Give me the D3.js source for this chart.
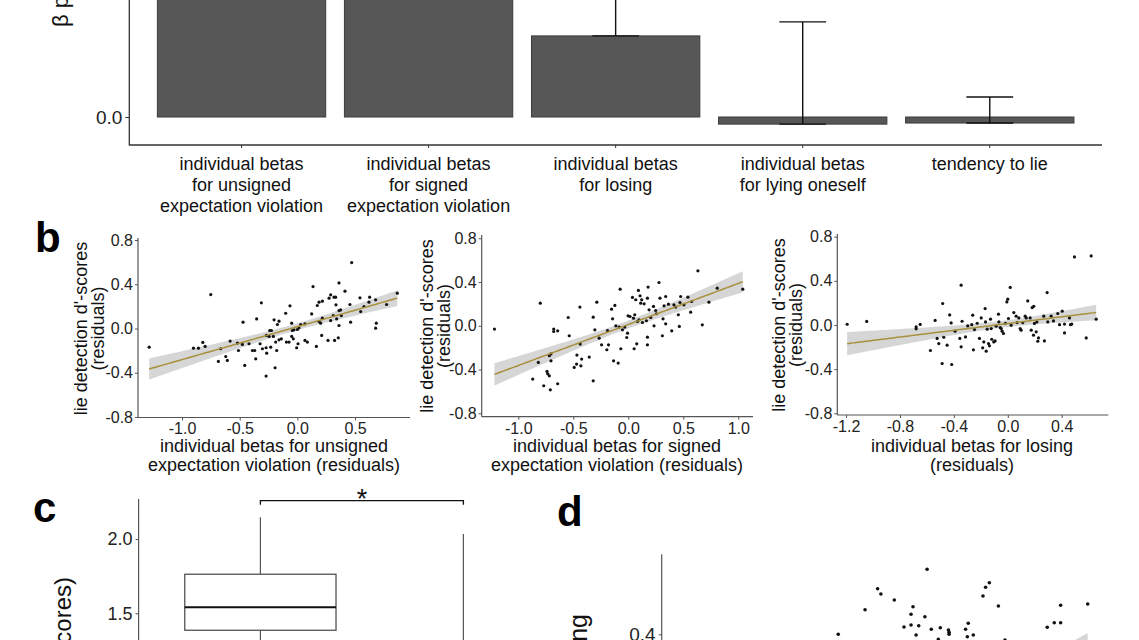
<!DOCTYPE html>
<html><head><meta charset="utf-8">
<script src="https://cdn.jsdelivr.net/npm/d3@7"></script>
<style>body{margin:0;background:#fff}svg{display:block}text{font-family:"Liberation Sans",Arial,sans-serif}</style>
</head><body><svg id="fig" width="1139" height="640"></svg>
<script>
// ---------- Panel a ----------
const aCategories = ["individual betas|for unsigned|expectation violation","individual betas|for signed|expectation violation","individual betas|for losing","individual betas|for lying oneself","tendency to lie"];
const aMeans   = [0.90, 0.86, 0.296, -0.026, -0.022];
const aErrHigh = [1.00, 0.95, 0.55, 0.347, 0.073];
const aYTicks  = [0.0, 0.5, 1.0];

// ---------- Panel b ----------
const b1X = [-1.285,-0.751,-0.901,-0.858,-0.820,-0.800,-0.685,-0.665,-0.621,-0.607,-0.583,-0.511,-0.520,-0.471,-0.456,-0.477,-0.419,-0.390,-0.370,-0.361,-0.353,-0.312,-0.323,-0.303,-0.271,-0.266,-0.269,-0.271,-0.240,-0.225,-0.245,-0.231,-0.202,-0.208,-0.193,-0.188,-0.173,-0.159,-0.179,-0.159,-0.139,-0.101,-0.095,-0.072,-0.064,-0.049,-0.043,-0.029,-0.049,-0.035,-0.006,0.006,0.000,0.014,0.029,0.066,0.066,0.087,0.124,0.136,0.165,0.173,0.188,0.188,0.202,0.217,0.217,0.211,0.266,0.275,0.289,0.318,0.332,0.289,0.312,0.335,0.341,0.361,0.375,0.361,0.361,0.355,0.323,0.381,0.413,0.456,0.462,0.471,0.543,0.549,0.578,0.621,0.627,0.679,0.685,0.679,0.774,0.867];
const b1Y = [-0.169,0.307,-0.178,-0.178,-0.126,-0.162,-0.298,-0.183,-0.253,-0.289,-0.114,-0.199,-0.132,0.057,-0.334,-0.144,-0.138,-0.199,-0.199,-0.274,0.087,0.232,-0.138,-0.183,-0.174,-0.223,-0.063,-0.430,-0.018,-0.018,-0.072,-0.169,0.078,-0.072,-0.355,-0.123,0.036,0.066,-0.199,-0.102,-0.093,0.138,-0.123,-0.123,0.205,0.048,-0.018,-0.012,-0.072,-0.093,-0.174,-0.138,-0.009,0.006,0.036,0.042,-0.108,-0.123,0.132,0.379,-0.162,0.208,0.063,0.238,0.048,0.247,0.093,-0.063,-0.108,0.274,0.304,0.283,0.283,0.072,0.117,0.214,0.087,0.162,0.168,0.412,0.027,-0.084,-0.108,0.117,0.337,0.217,0.057,0.596,0.277,0.153,0.199,0.238,0.283,0.259,0.048,0.003,0.217,0.319];
const b2X = [-1.217,-0.800,-0.869,-0.818,-0.769,-0.739,-0.733,-0.718,-0.709,-0.718,-0.703,-0.703,-0.678,-0.678,-0.642,-0.642,-0.546,-0.537,-0.492,-0.470,-0.467,-0.440,-0.437,-0.431,-0.424,-0.355,-0.319,-0.319,-0.304,-0.286,-0.265,-0.243,-0.195,-0.189,-0.180,-0.152,-0.143,-0.134,-0.122,-0.113,-0.092,-0.083,-0.074,-0.068,-0.053,-0.032,-0.014,-0.007,-0.002,0.016,0.038,0.047,0.053,0.059,0.068,0.077,0.083,0.092,0.098,0.107,0.113,0.122,0.129,0.144,0.165,0.174,0.174,0.174,0.180,0.189,0.204,0.229,0.234,0.249,0.255,0.279,0.288,0.310,0.316,0.325,0.340,0.340,0.365,0.395,0.415,0.431,0.455,0.464,0.470,0.476,0.506,0.542,0.567,0.576,0.633,0.673,0.733,0.809,1.041];
const b2Y = [-0.030,0.207,-0.487,-0.335,-0.548,-0.417,-0.439,-0.457,-0.585,-0.274,-0.256,-0.320,-0.030,-0.052,-0.046,-0.530,0.076,-0.091,-0.381,-0.350,-0.268,0.171,-0.167,-0.366,-0.304,-0.286,0.079,-0.503,-0.037,0.216,-0.113,-0.174,-0.219,-0.043,-0.174,0.152,0.064,-0.320,0.186,0.000,-0.341,-0.012,0.335,-0.210,-0.037,-0.012,-0.107,-0.067,0.091,0.085,0.259,0.070,-0.210,0.101,0.238,-0.165,0.040,0.323,0.055,0.274,0.207,0.238,0.030,0.201,0.046,0.253,-0.104,-0.174,0.354,0.146,0.076,0.177,0.000,0.140,0.110,0.396,0.253,-0.091,0.064,0.183,0.268,0.018,0.198,-0.046,0.192,0.171,0.101,-0.006,0.213,0.268,0.192,0.262,0.125,0.222,0.503,0.009,0.216,0.344,0.335];
const b3X = [-1.192,-1.047,-0.680,-0.680,-0.650,-0.574,-0.539,-0.524,-0.512,-0.483,-0.487,-0.475,-0.450,-0.431,-0.420,-0.416,-0.391,-0.356,-0.346,-0.346,-0.339,-0.314,-0.297,-0.267,-0.260,-0.255,-0.247,-0.227,-0.210,-0.197,-0.186,-0.178,-0.168,-0.165,-0.160,-0.153,-0.143,-0.136,-0.128,-0.123,-0.119,-0.104,-0.094,-0.086,-0.069,-0.066,-0.056,-0.049,-0.042,-0.032,-0.017,-0.007,0.000,0.005,0.018,0.025,0.045,0.062,0.069,0.082,0.092,0.099,0.111,0.129,0.137,0.148,0.166,0.174,0.181,0.193,0.191,0.198,0.211,0.216,0.223,0.228,0.272,0.267,0.292,0.297,0.322,0.339,0.371,0.384,0.404,0.421,0.421,0.458,0.465,0.475,0.495,0.582,0.619,0.656];
const b3Y = [0.007,0.032,-0.017,-0.035,0.005,-0.231,0.041,-0.122,-0.168,0.195,-0.349,-0.111,-0.183,0.091,0.019,-0.358,-0.056,-0.122,0.361,-0.198,0.034,-0.108,-0.008,0.003,0.089,-0.225,-0.041,0.016,-0.122,0.064,-0.207,-0.153,0.149,0.028,-0.237,-0.038,-0.168,-0.189,0.053,-0.032,-0.129,-0.153,-0.144,-0.011,0.098,0.028,-0.023,-0.032,-0.056,-0.077,0.016,0.209,0.234,0.059,0.340,-0.002,0.113,0.080,0.022,0.064,-0.032,-0.047,0.022,0.080,0.064,0.218,0.064,-0.047,0.158,0.170,-0.092,0.014,-0.062,0.028,-0.147,-0.117,-0.144,0.080,0.294,0.028,0.080,0.037,0.104,0.003,0.125,0.008,-0.072,0.064,0.003,0.008,0.617,-0.117,0.626,0.053];
const bYTicks = [-0.8,-0.4,0.0,0.4,0.8];
const b1XTicks = [-1.0,-0.5,0.0,0.5];
const b2XTicks = [-1.0,-0.5,0.0,0.5,1.0];
const b3XTicks = [-1.2,-0.8,-0.4,0.0,0.4];

// ---------- Panel c ----------
const cGroups = ["group 1","group 2"];
const cQ1 = [1.386, 0.85];
const cMedian = [1.541, 1.05];
const cQ3 = [1.763, 1.25];
const cWhiskLow = [1.00, 0.40];
const cWhiskHigh = [2.146, 2.034];
const cYTicks = [1.0, 1.5, 2.0];
const cSigLevel = [2.258, 2.231];

// ---------- Panel d ----------
const dX = [-0.199,-0.077,-0.020,-0.005,0.056,0.100,0.132,0.132,0.141,0.155,0.167,0.195,0.205,0.224,0.256,0.265,0.302,0.305,0.305,0.380,0.392,0.388,0.415,0.459,0.471,0.488,0.529,0.559,0.751,0.783,0.812,0.812,0.935];
const dY = [0.400,0.498,0.582,0.561,0.537,0.429,0.437,0.480,0.510,0.397,0.434,0.470,0.660,0.420,0.380,0.426,0.417,0.408,0.400,0.420,0.444,0.390,0.397,0.553,0.588,0.606,0.513,0.377,0.428,0.446,0.446,0.516,0.521];
const dYTicks = [0.0, 0.4];
const dBandX = [0.60, 0.935];
const dBandLo = [0.00, 0.05];
const dBandHi = [0.244, 0.405];

const FONT = '"Liberation Sans",Arial,sans-serif';
const svg = d3.select("#fig");
svg.append("rect").attr("width",1139).attr("height",640).attr("fill","#fff");
const fmt = d => d.toFixed(1);

// ===== Panel a =====
(function(){
  const g = svg.append("g");
  const x = d3.scalePoint().domain(d3.range(aCategories.length)).range([129.3,1102]).padding(0.6);
  const y = d3.scaleLinear().domain([0,0.5]).range([117,-20]);
  const step = x.step(), bw = step*0.9, cw = step*0.25;
  g.selectAll("rect.bar").data(aMeans).join("rect").attr("class","bar")
    .attr("x",(d,i)=>x(i)-bw/2).attr("y",d=>y(Math.max(d,0)))
    .attr("width",bw).attr("height",d=>Math.abs(y(d)-y(0)))
    .attr("fill","#575757").attr("stroke","#3c3c3c").attr("stroke-width",1);
  const eb = g.selectAll("g.err").data(aMeans).join("g").attr("class","err")
    .attr("stroke","#111").attr("stroke-width",1.4);
  eb.append("line").attr("x1",(d,i)=>x(i)).attr("x2",(d,i)=>x(i)).attr("y1",d=>y(d)).attr("y2",(d,i)=>y(aErrHigh[i]));
  eb.append("line").attr("x1",(d,i)=>x(i)-cw/2).attr("x2",(d,i)=>x(i)+cw/2).attr("y1",d=>y(d)).attr("y2",d=>y(d));
  eb.append("line").attr("x1",(d,i)=>x(i)-cw/2).attr("x2",(d,i)=>x(i)+cw/2).attr("y1",(d,i)=>y(aErrHigh[i])).attr("y2",(d,i)=>y(aErrHigh[i]));
  const ya = g.append("g").attr("transform","translate(129.3,0)")
    .call(d3.axisLeft(y).tickValues(aYTicks).tickSize(4).tickPadding(3).tickFormat(fmt));
  ya.select(".domain").remove();
  ya.selectAll("line").attr("stroke","#333");
  ya.selectAll("text").attr("font-size",19).attr("font-family",FONT).attr("fill","#222");
  g.append("line").attr("x1",129.3).attr("x2",129.3).attr("y1",-5).attr("y2",145.5).attr("stroke","#333").attr("stroke-width",1.3);
  g.append("line").attr("x1",129.3).attr("x2",1102).attr("y1",145).attr("y2",145).attr("stroke","#333").attr("stroke-width",1.3);
  g.selectAll("line.xt").data(aCategories).join("line").attr("class","xt")
    .attr("x1",(d,i)=>x(i)).attr("x2",(d,i)=>x(i)).attr("y1",145).attr("y2",148).attr("stroke","#333");
  const lab = g.selectAll("text.cat").data(aCategories).join("text").attr("class","cat")
    .attr("text-anchor","middle").attr("font-size",18).attr("fill","#111");
  lab.each(function(d,i){
    d.split("|").forEach((s,k)=>{
      d3.select(this).append("tspan").attr("x",x(i)).attr("y",170+k*21).text(s);
    });
  });
  g.append("text").attr("transform","translate(68,27) rotate(-90)")
    .attr("font-size",22).attr("fill","#111").attr("text-anchor","start").text("β parameter estimates");
})();

// ===== Panel b =====
function ols(X,Y){
  const n=X.length, mx=d3.mean(X), my=d3.mean(Y);
  let sxx=0,sxy=0; for(let i=0;i<n;i++){sxx+=(X[i]-mx)**2; sxy+=(X[i]-mx)*(Y[i]-my);}
  const b=sxy/sxx, a=my-b*mx;
  let sse=0; for(let i=0;i<n;i++){sse+=(Y[i]-a-b*X[i])**2;}
  const s=Math.sqrt(sse/(n-2)), t=1.985;
  return {a,b,band:x0=>t*s*Math.sqrt(1/n+(x0-mx)**2/sxx)};
}
function scatter(c){
  const g = svg.append("g");
  const x = d3.scaleLinear().domain(c.xDom).range(c.xR);
  const y = d3.scaleLinear().domain([-0.8,0.8]).range(c.yR);
  const f = ols(c.X,c.Y);
  const [x0,x1] = d3.extent(c.X);
  const xs = d3.range(80).map(i=>x0+(x1-x0)*i/79);
  g.append("path").datum(xs).attr("fill","#999").attr("fill-opacity",0.4)
    .attr("d",d3.area().x(d=>x(d)).y0(d=>y(f.a+f.b*d-f.band(d))).y1(d=>y(f.a+f.b*d+f.band(d))));
  g.selectAll("circle").data(c.X).join("circle")
    .attr("cx",d=>x(d)).attr("cy",(d,i)=>y(c.Y[i])).attr("r",1.6).attr("fill","#111");
  g.append("path").datum(xs).attr("fill","none").attr("stroke","#a8903c").attr("stroke-width",1.5)
    .attr("d",d3.line().x(d=>x(d)).y(d=>y(f.a+f.b*d)));
  const ya = g.append("g").attr("transform",`translate(${c.xR[0]},0)`)
    .call(d3.axisLeft(y).tickValues(bYTicks).tickSize(3).tickPadding(2).tickFormat(fmt));
  const xa = g.append("g").attr("transform",`translate(0,${c.axisY})`)
    .call(d3.axisBottom(x).tickValues(c.xTicks).tickSize(3).tickPadding(2.5).tickFormat(fmt));
  [ya,xa].forEach(a=>{a.select(".domain").remove(); a.selectAll("line").attr("stroke","#555");
    a.selectAll("text").attr("font-size",16).attr("font-family",FONT).attr("fill","#222");});
  g.append("line").attr("x1",c.xR[0]).attr("x2",c.xR[0]).attr("y1",c.yTop).attr("y2",c.axisY).attr("stroke","#555").attr("stroke-width",1.2);
  g.append("line").attr("x1",c.xR[0]).attr("x2",c.xR[1]).attr("y1",c.axisY).attr("y2",c.axisY).attr("stroke","#555").attr("stroke-width",1.2);
  c.yTitle.forEach((s,k)=>{
    g.append("text").attr("transform",`translate(${c.yTitleX[k]},${c.yTitleC}) rotate(-90)`)
      .attr("text-anchor","middle").attr("font-size",18).attr("fill","#111").text(s);
  });
  c.xTitle.forEach((s,k)=>{
    g.append("text").attr("x",c.xTitleC).attr("y",[452,470.5][k])
      .attr("text-anchor","middle").attr("font-size",18).attr("fill","#111").text(s);
  });
}
const yT = ["lie detection d'-scores","(residuals)"];
scatter({X:b1X,Y:b1Y,xDom:[-1.382,0.977],xR:[138,410],yR:[417,240],axisY:417.5,yTop:238,xTicks:b1XTicks,
  yTitle:yT,yTitleX:[87,104],yTitleC:328.5,xTitle:["individual betas for unsigned","expectation violation (residuals)"],xTitleC:274});
scatter({X:b2X,Y:b2Y,xDom:[-1.333,1.134],xR:[481.7,753],yR:[413.3,238.3],axisY:416.7,yTop:235,xTicks:b2XTicks,
  yTitle:yT,yTitleX:[433,450],yTitleC:326,xTitle:["individual betas for signed","expectation violation (residuals)"],xTitleC:617});
scatter({X:b3X,Y:b3Y,xDom:[-1.265,0.746],xR:[837.3,1108.3],yR:[413.3,236.7],axisY:415,yTop:234,xTicks:b3XTicks,
  yTitle:yT,yTitleX:[785,802],yTitleC:325,xTitle:["individual betas for losing","(residuals)"],xTitleC:972});

// ===== Panel c =====
(function(){
  const g = svg.append("g");
  const x = d3.scalePoint().domain(cGroups).range([138.6,138.6+2.2*203]).padding(0.6);
  const y = d3.scaleLinear().domain([1.5,2.0]).range([613.3,539]);
  const bw = x.step()*0.745;
  g.selectAll("line.wh").data(cGroups).join("line").attr("class","wh")
    .attr("x1",d=>x(d)).attr("x2",d=>x(d)).attr("y1",(d,i)=>y(cWhiskHigh[i])).attr("y2",(d,i)=>y(cQ3[i]))
    .attr("stroke","#555").attr("stroke-width",1.2);
  g.selectAll("line.wl").data(cGroups).join("line").attr("class","wl")
    .attr("x1",d=>x(d)).attr("x2",d=>x(d)).attr("y1",(d,i)=>y(cQ1[i])).attr("y2",(d,i)=>y(cWhiskLow[i]))
    .attr("stroke","#555").attr("stroke-width",1.2);
  g.selectAll("rect").data(cGroups).join("rect")
    .attr("x",d=>x(d)-bw/2).attr("width",bw).attr("y",(d,i)=>y(cQ3[i])).attr("height",(d,i)=>y(cQ1[i])-y(cQ3[i]))
    .attr("fill","#fff").attr("stroke","#444").attr("stroke-width",1.2);
  g.selectAll("line.md").data(cGroups).join("line").attr("class","md")
    .attr("x1",d=>x(d)-bw/2).attr("x2",d=>x(d)+bw/2).attr("y1",(d,i)=>y(cMedian[i])).attr("y2",(d,i)=>y(cMedian[i]))
    .attr("stroke","#111").attr("stroke-width",2);
  const ya = g.append("g").attr("transform","translate(138.6,0)")
    .call(d3.axisLeft(y).tickValues(cYTicks).tickSize(3).tickPadding(3).tickFormat(fmt));
  ya.select(".domain").remove(); ya.selectAll("line").attr("stroke","#555");
  ya.selectAll("text").attr("font-size",18).attr("font-family",FONT).attr("fill","#222");
  g.append("line").attr("x1",138.6).attr("x2",138.6).attr("y1",499).attr("y2",660).attr("stroke","#555").attr("stroke-width",1.2);
  const xa = x(cGroups[0]), xb = x(cGroups[1]);
  g.append("path").attr("d",`M${xa},${y(cSigLevel[1])}V${y(cSigLevel[0])}H${xb}V${y(cSigLevel[1])}`)
    .attr("fill","none").attr("stroke","#111").attr("stroke-width",1.3);
  g.append("text").attr("x",(xa+xb)/2).attr("y",y(cSigLevel[0])+7).attr("text-anchor","middle")
    .attr("font-size",27).attr("fill","#111").text("*");
  g.append("text").attr("transform","translate(71,577) rotate(-90)").attr("text-anchor","end")
    .attr("font-size",24).attr("fill","#111").text("lie detection (d'-scores)");
})();

// ===== Panel d =====
(function(){
  const g = svg.append("g");
  const x = d3.scaleLinear().domain([-1,1]).range([662,1102]);
  const y = d3.scaleLinear().domain([0,0.4]).range([734.3,634.3]);
  g.append("path").datum(dBandX).attr("fill","#999").attr("fill-opacity",0.4)
    .attr("d",d3.area().x(d=>x(d)).y0((d,i)=>y(dBandLo[i])).y1((d,i)=>y(dBandHi[i])));
  g.selectAll("circle").data(dX).join("circle")
    .attr("cx",d=>x(d)).attr("cy",(d,i)=>y(dY[i])).attr("r",1.8).attr("fill","#111");
  const ya = g.append("g").attr("transform","translate(661.7,0)")
    .call(d3.axisLeft(y).tickValues(dYTicks).tickSize(3).tickPadding(3).tickFormat(fmt));
  ya.select(".domain").remove(); ya.selectAll("line").attr("stroke","#555");
  ya.selectAll("text").attr("font-size",19).attr("font-family",FONT).attr("fill","#222");
  g.append("line").attr("x1",661.7).attr("x2",661.7).attr("y1",554.3).attr("y2",660).attr("stroke","#555").attr("stroke-width",1.2);
  g.append("text").attr("transform","translate(587,614) rotate(-90)").attr("text-anchor","end")
    .attr("font-size",25).attr("fill","#111").text("individual betas for losing");
})();

// panel letters
[["b",35,252],["c",33,522],["d",557,526]].forEach(([t,x,y])=>{
  svg.append("text").attr("x",x).attr("y",y).attr("font-size",42).attr("font-weight","bold").attr("fill","#000").text(t);
});
</script></body></html>
